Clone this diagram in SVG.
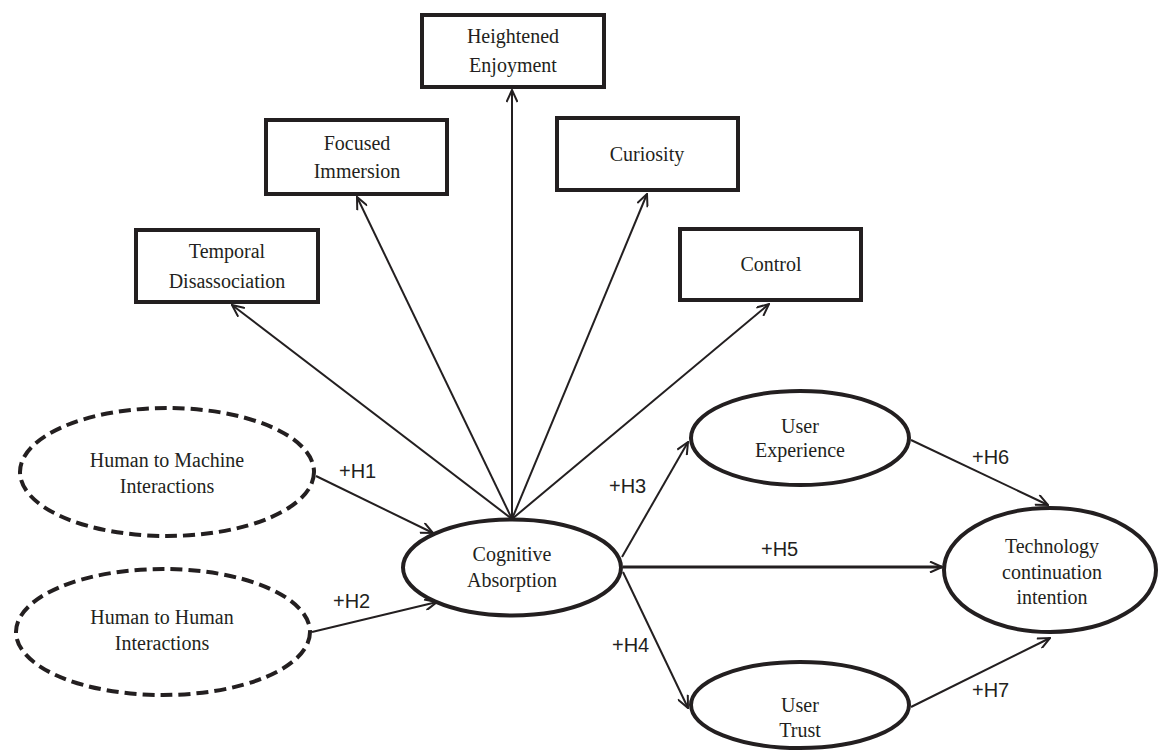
<svg xmlns="http://www.w3.org/2000/svg" width="1160" height="756" viewBox="0 0 1160 756">
<style>
  .box { fill: #ffffff; stroke: #231f20; stroke-width: 4; }
  .ell { fill: #ffffff; stroke: #231f20; stroke-width: 4; }
  .dash { fill: #ffffff; stroke: #231f20; stroke-width: 4; stroke-dasharray: 12 6; }
  .t { font-family: "Liberation Serif", "Times New Roman", serif; font-size: 20px; fill: #231f20; text-anchor: middle; }
  .lbl { font-family: "Liberation Sans", Arial, sans-serif; font-size: 20px; fill: #231f20; }
  .conn { stroke: #231f20; stroke-width: 2; fill: none; marker-end: url(#arr); }
  .thick { stroke-width: 3; }
</style>
<defs>
  <marker id="arr" viewBox="0 0 14 12" refX="13" refY="6" markerWidth="14" markerHeight="12" markerUnits="userSpaceOnUse" orient="auto">
    <path d="M1,0.5 L13,6 L1,11.5" fill="none" stroke="#231f20" stroke-width="2"/>
  </marker>
</defs>
<rect width="1160" height="756" fill="#ffffff"/>

<g id="connectors">
  <line class="conn" x1="512" y1="519" x2="232" y2="305"/>
  <line class="conn" x1="512" y1="519" x2="357" y2="197"/>
  <line class="conn" x1="512" y1="519" x2="512" y2="90"/>
  <line class="conn" x1="512" y1="519" x2="647" y2="194"/>
  <line class="conn" x1="512" y1="519" x2="769" y2="304"/>
  <line class="conn" x1="316" y1="476" x2="433" y2="533"/>
  <line class="conn" x1="312" y1="632" x2="437" y2="602"/>
  <line class="conn" x1="622" y1="557" x2="688" y2="442"/>
  <line class="conn" x1="623" y1="572" x2="688" y2="708"/>
  <line class="conn thick" x1="623" y1="567" x2="942" y2="567"/>
  <line class="conn" x1="911" y1="440" x2="1048" y2="505"/>
  <line class="conn" x1="911" y1="707" x2="1050" y2="638"/>
  <text class="lbl" x="339" y="478">+H1</text>
  <text class="lbl" x="333" y="608">+H2</text>
  <text class="lbl" x="609" y="493">+H3</text>
  <text class="lbl" x="612" y="652">+H4</text>
  <text class="lbl" x="761" y="556">+H5</text>
  <text class="lbl" x="972" y="464">+H6</text>
  <text class="lbl" x="972" y="697">+H7</text>
</g>

<g id="heightened-enjoyment">
  <rect class="box" x="422" y="15" width="182" height="72"/>
  <text class="t" x="513" y="43">Heightened</text>
  <text class="t" x="513" y="72">Enjoyment</text>
</g>
<g id="focused-immersion">
  <rect class="box" x="266" y="120" width="181" height="74"/>
  <text class="t" x="357" y="150">Focused</text>
  <text class="t" x="357" y="178">Immersion</text>
</g>
<g id="temporal-disassociation">
  <rect class="box" x="136" y="230" width="182" height="72"/>
  <text class="t" x="227" y="258">Temporal</text>
  <text class="t" x="227" y="288">Disassociation</text>
</g>
<g id="curiosity">
  <rect class="box" x="557" y="118" width="181" height="72"/>
  <text class="t" x="647" y="161">Curiosity</text>
</g>
<g id="control">
  <rect class="box" x="680" y="229" width="181" height="71"/>
  <text class="t" x="771" y="271">Control</text>
</g>

<g id="human-to-machine">
  <ellipse class="dash" cx="167" cy="472" rx="147" ry="64"/>
  <text class="t" x="167" y="467">Human to Machine</text>
  <text class="t" x="167" y="493">Interactions</text>
</g>
<g id="human-to-human">
  <ellipse class="dash" cx="163" cy="632" rx="147" ry="63"/>
  <text class="t" x="162" y="624">Human to Human</text>
  <text class="t" x="162" y="650">Interactions</text>
</g>
<g id="cognitive-absorption">
  <ellipse class="ell" cx="512" cy="567.5" rx="109" ry="48"/>
  <text class="t" x="512" y="561">Cognitive</text>
  <text class="t" x="512" y="587">Absorption</text>
</g>
<g id="user-experience">
  <ellipse class="ell" cx="800" cy="438" rx="109" ry="47"/>
  <text class="t" x="800" y="433">User</text>
  <text class="t" x="800" y="457">Experience</text>
</g>
<g id="technology-continuation-intention">
  <ellipse class="ell" cx="1050" cy="570" rx="106" ry="62"/>
  <text class="t" x="1052" y="553">Technology</text>
  <text class="t" x="1052" y="579">continuation</text>
  <text class="t" x="1052" y="604">intention</text>
</g>
<g id="user-trust">
  <ellipse class="ell" cx="800" cy="705" rx="109" ry="43"/>
  <text class="t" x="800" y="712">User</text>
  <text class="t" x="800" y="737">Trust</text>
</g>
</svg>
